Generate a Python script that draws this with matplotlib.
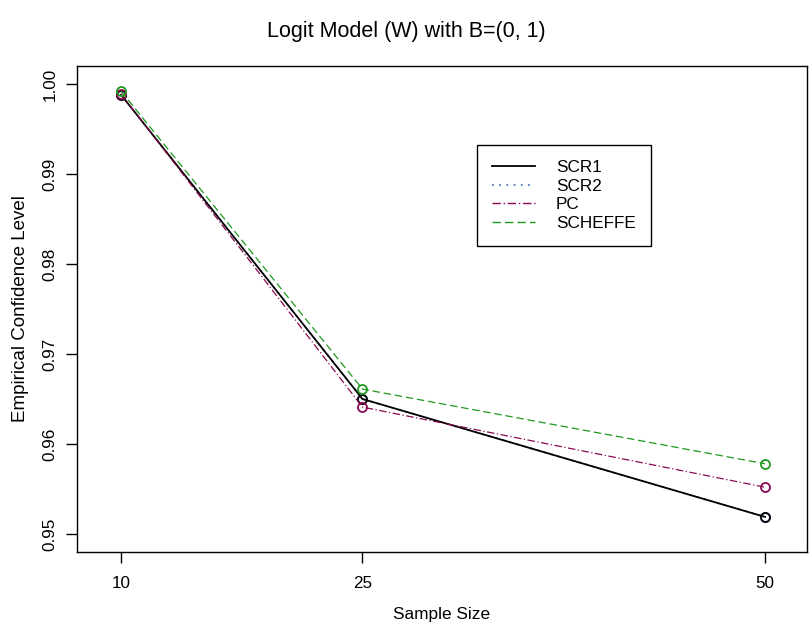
import matplotlib
matplotlib.use("Agg")
import matplotlib.pyplot as plt
from matplotlib.lines import Line2D

plt.rcParams['font.family'] = ['Liberation Sans', 'DejaVu Sans']

sample_sizes = [10, 25, 50]
scr1 = [0.9988, 0.9650, 0.9519]
scr2 = [0.9988, 0.9650, 0.9519]
pc = [0.9989, 0.9641, 0.9552]
scheffe = [0.9992, 0.9661, 0.9578]
yticks = [0.95, 0.96, 0.97, 0.98, 0.99, 1.00]
ytick_labels = ["0.95", "0.96", "0.97", "0.98", "0.99", "1.00"]
series_names = ["SCR1", "SCR2", "PC", "SCHEFFE"]

c_scr1 = "black"
c_scr2 = "#5a7db5"
c_pc = "#8b0a50"
c_sch = "#1f9a1f"

fs = 12.3

fig = plt.figure(figsize=(8.12, 6.29), dpi=100)
ax = fig.add_axes([77/812, 1 - 552/629, (807-77)/812, (552-66)/629])

lw = 1.3
ms = 6.5
mew = 1.3
ax.plot(sample_sizes, scr2, color=c_scr2, linestyle=(0, (1, 3)), linewidth=lw,
        marker='o', markerfacecolor='none', markersize=ms, markeredgewidth=mew)
ax.plot(sample_sizes, scr1, color=c_scr1, linestyle='-', linewidth=lw,
        marker='o', markerfacecolor='none', markersize=ms, markeredgewidth=mew)
ax.plot(sample_sizes, pc, color=c_pc, linestyle=(0, (6, 2, 1, 2)), linewidth=0.9,
        marker='o', markerfacecolor='none', markersize=ms, markeredgewidth=mew)
ax.plot(sample_sizes, scheffe, color=c_sch, linestyle=(0, (6, 3)), linewidth=0.9,
        marker='o', markerfacecolor='none', markersize=ms, markeredgewidth=mew)

ax.set_xlim(10 - 44/16.1, 50 + 42/16.1)
ax.set_ylim(0.948, 1.002)
ax.set_xticks(sample_sizes)
ax.set_xticklabels([str(s) for s in sample_sizes], fontsize=fs)
ax.set_yticks(yticks)
ax.set_yticklabels(ytick_labels, fontsize=fs, rotation=90, va='center')
ax.tick_params(direction='out', length=8, width=1)
ax.tick_params(axis='x', pad=9)
ax.tick_params(axis='y', pad=6)
for s in ax.spines.values():
    s.set_linewidth(1)

ax.set_xlabel("Sample Size", fontsize=12.4, labelpad=12)
ax.set_ylabel("Empirical Confidence Level", fontsize=13.5, labelpad=10)
fig.suptitle("Logit Model (W) with B=(0, 1)", fontsize=15.5, y=1 - 32/629, va='center')

handles = [
    Line2D([], [], color=c_scr1, linestyle='-', linewidth=lw),
    Line2D([], [], color=c_scr2, linestyle=(0, (1, 3)), linewidth=lw),
    Line2D([], [], color=c_pc, linestyle=(0, (6, 2, 1, 2)), linewidth=1.0),
    Line2D([], [], color=c_sch, linestyle=(0, (6, 3)), linewidth=1.0),
]
leg = ax.legend(handles, series_names, loc='upper left',
                bbox_to_anchor=(477/812, 1 - 145/629), bbox_transform=fig.transFigure,
                fancybox=False, edgecolor='black', framealpha=1, fontsize=fs,
                handlelength=2.5, handletextpad=1.23, labelspacing=0.2,
                borderpad=0.9, borderaxespad=0)
leg.get_frame().set_linewidth(1)

fig.savefig("out.png", dpi=100)
